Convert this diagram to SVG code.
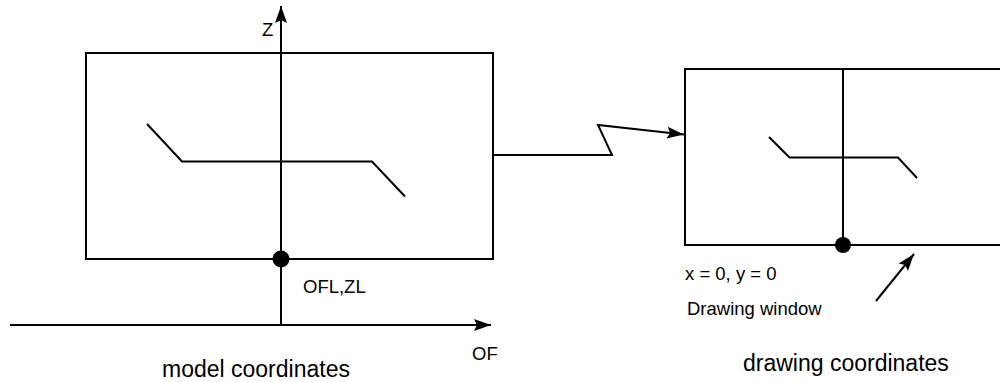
<svg xmlns="http://www.w3.org/2000/svg" width="1000" height="382" viewBox="0 0 1000 382">
  <defs>
    <style>
      .ln { fill: none; stroke: #000; stroke-width: 2; stroke-linejoin: miter; }
      .dot { fill: #000; }
      .t { font-family: "Liberation Sans", Arial, sans-serif; fill: #000; }
      .s { font-size: 18.5px; }
      .b { font-size: 23px; }
    </style>
    <marker id="arr" markerUnits="userSpaceOnUse" markerWidth="20" markerHeight="14" viewBox="-17 -7 18 14" refX="0" refY="0" orient="auto">
      <path d="M0,0 L-17,-6 L-14,0 L-17,6 Z" fill="#000"/>
    </marker>
  </defs>
  <rect width="1000" height="382" fill="#fff"/>

  <g id="model-window">
    <rect class="ln" x="86" y="53" width="407" height="206"/>
    <polyline class="ln" points="147,124 182,161.5 372,161.5 405,196.5"/>
  </g>

  <g id="model-axes">
    <line class="ln" x1="281" y1="325" x2="281" y2="6" marker-end="url(#arr)"/>
    <line class="ln" x1="10" y1="325" x2="491" y2="325" marker-end="url(#arr)"/>
    <circle class="dot" cx="281" cy="259" r="8.5"/>
    <text class="t s" x="262" y="36">Z</text>
    <text class="t s" x="472" y="360">OF</text>
    <text class="t s" x="303" y="293">OFL,ZL</text>
  </g>

  <g id="drawing-window">
    <rect class="ln" x="685" y="69" width="330" height="176"/>
    <line class="ln" x1="843" y1="69" x2="843" y2="245"/>
    <polyline class="ln" points="769,137 789.5,157.5 898,157.5 917,178"/>
    <circle class="dot" cx="843" cy="245" r="8"/>
    <text class="t s" x="685" y="280">x = 0, y = 0</text>
    <text class="t s" x="687" y="315">Drawing window</text>
  </g>

  <g id="connectors">
    <polyline class="ln" points="493,155 612,155 598,125 684,134.5" marker-end="url(#arr)"/>
    <line class="ln" x1="876" y1="301" x2="914" y2="254" marker-end="url(#arr)"/>
  </g>

  <g id="captions">
    <text class="t b" x="162" y="377">model coordinates</text>
    <text class="t b" x="743" y="371">drawing coordinates</text>
  </g>
</svg>
